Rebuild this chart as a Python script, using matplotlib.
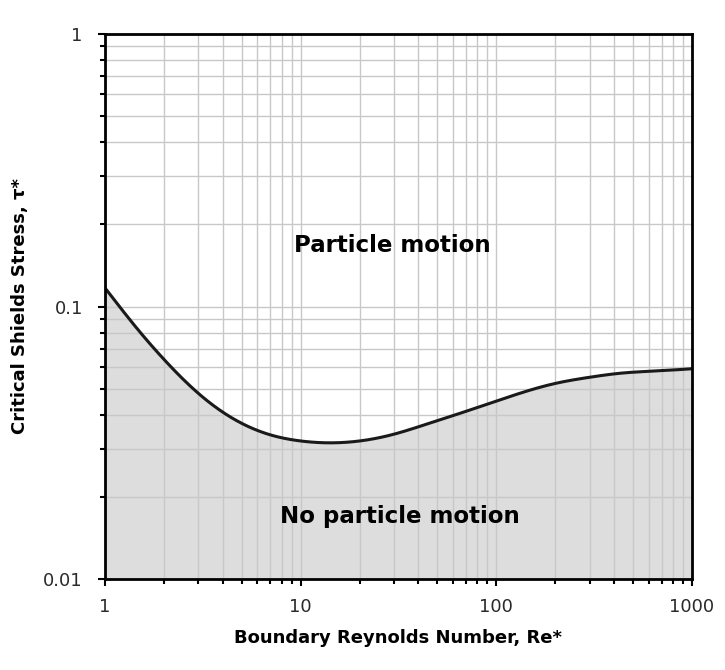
import numpy as np
import matplotlib
matplotlib.use("Agg")
import matplotlib.pyplot as plt
from matplotlib.ticker import FixedLocator, LogLocator, NullFormatter

plt.rcParams['font.family'] = ['DejaVu Sans']

# Shields curve
re_star = [1, 1.5, 2, 3, 4.35, 7, 10, 14, 20, 30, 45, 69, 104, 200, 300, 430, 685, 1000]
tau_star = [0.117, 0.081, 0.064, 0.048, 0.0394, 0.0338, 0.0321, 0.0316, 0.0321,
            0.0340, 0.0372, 0.0411, 0.0454, 0.0522, 0.055, 0.0569, 0.0581, 0.0591]

x_ticks = [1, 10, 100, 1000]
x_labels = ["1", "10", "100", "1000"]
y_ticks = [0.01, 0.1, 1]
y_labels = ["0.01", "0.1", "1"]


def natural_spline(xs, ys, xf):
    xs = np.asarray(xs, float)
    ys = np.asarray(ys, float)
    n = len(xs)
    h = np.diff(xs)
    A = np.zeros((n, n))
    b = np.zeros(n)
    A[0, 0] = A[-1, -1] = 1
    for i in range(1, n - 1):
        A[i, i - 1] = h[i - 1]
        A[i, i] = 2 * (h[i - 1] + h[i])
        A[i, i + 1] = h[i]
        b[i] = 3 * ((ys[i + 1] - ys[i]) / h[i] - (ys[i] - ys[i - 1]) / h[i - 1])
    c = np.linalg.solve(A, b)
    idx = np.clip(np.searchsorted(xs, xf) - 1, 0, n - 2)
    dx = xf - xs[idx]
    hb = h[idx]
    bb = (ys[idx + 1] - ys[idx]) / hb - hb * (2 * c[idx] + c[idx + 1]) / 3
    dd = (c[idx + 1] - c[idx]) / (3 * hb)
    return ys[idx] + bb * dx + c[idx] * dx ** 2 + dd * dx ** 3


lx = np.log10(re_star)
ly = np.log10(tau_star)
fine = np.linspace(lx[0], lx[-1], 500)
fx = 10 ** fine
fy = 10 ** natural_spline(lx, ly, fine)

fig = plt.figure(figsize=(7.25, 6.7), dpi=100)
ax = fig.add_axes([105/725, 1 - 579/670, 587/725, 545/670])

ax.fill_between(fx, 0.01, fy, color="#dddddd", zorder=1)
ax.plot(fx, fy, color="#1a1a1a", lw=2.2, zorder=3)

ax.set_xscale("log")
ax.set_yscale("log")
ax.set_xlim(1, 1000)
ax.set_ylim(0.01, 1)

ax.xaxis.set_major_locator(FixedLocator(x_ticks))
ax.set_xticklabels(x_labels)
ax.yaxis.set_major_locator(FixedLocator(y_ticks))
ax.set_yticklabels(y_labels)
ax.xaxis.set_minor_locator(LogLocator(base=10, subs=np.arange(2, 10)))
ax.yaxis.set_minor_locator(LogLocator(base=10, subs=np.arange(2, 10)))
ax.xaxis.set_minor_formatter(NullFormatter())
ax.yaxis.set_minor_formatter(NullFormatter())

ax.grid(True, which="both", color="#c8c8c8", lw=1.0, zorder=2)
for gl in ax.get_xgridlines() + ax.get_ygridlines():
    gl.set_zorder(2)

ax.tick_params(which="major", length=5, width=1.5, direction="out", labelsize=13,
               colors="black", labelcolor="#2a2a2a")
ax.tick_params(which="minor", length=3.5, width=1.5, direction="out")
ax.tick_params(axis="x", which="major", pad=9)
ax.tick_params(axis="y", which="major", pad=11)
for s in ax.spines.values():
    s.set_linewidth(2)
    s.set_color("black")
    s.set_zorder(4)

ax.set_xlabel("Boundary Reynolds Number, Re*", fontsize=13, fontweight="bold", labelpad=9)
ax.set_ylabel("Critical Shields Stress, τ*", fontsize=13, fontweight="bold", labelpad=10)

ax.text(29.3, 0.168, "Particle motion", fontsize=16.5, fontweight="bold",
        ha="center", va="center", zorder=5)
ax.text(32, 0.0169, "No particle motion", fontsize=16.5, fontweight="bold",
        ha="center", va="center", zorder=5)

fig.savefig("out.png", dpi=100)
